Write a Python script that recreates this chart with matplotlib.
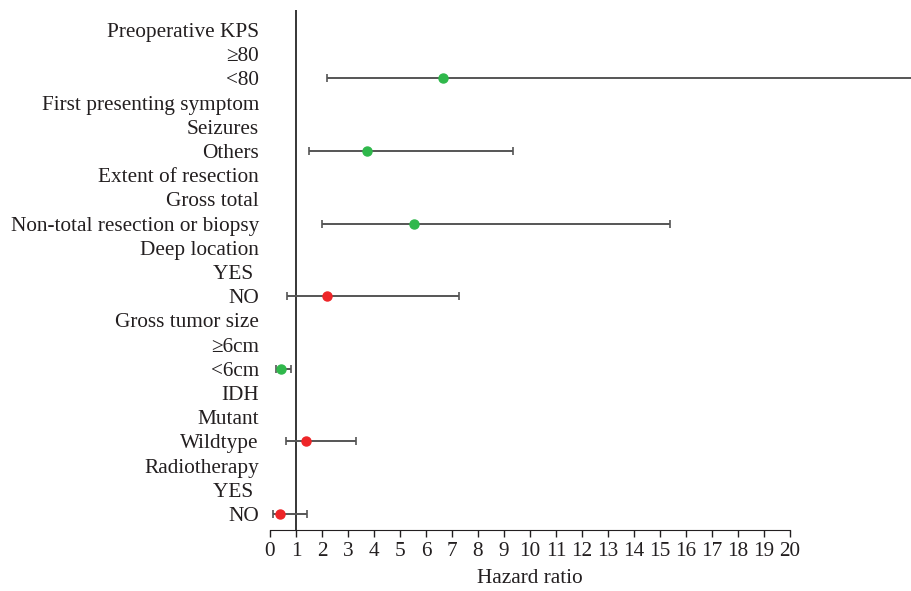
import matplotlib.pyplot as plt
import numpy as np

plt.rcParams['font.family'] = ['Liberation Serif', 'DejaVu Serif']

# row labels, top to bottom
labels = ["Preoperative KPS", "\u226580", "<80",
          "First presenting symptom", "Seizures", "Others",
          "Extent of resection", "Gross total", "Non-total resection or biopsy",
          "Deep location", "YES ", "NO",
          "Gross tumor size", "\u22656cm", "<6cm",
          "IDH", "Mutant", "Wildtype",
          "Radiotherapy", "YES ", "NO"]

# rows that carry an estimate
rows = [2, 5, 8, 11, 14, 17, 20]
hr = [6.65, 3.72, 5.54, 2.18, 0.42, 1.37, 0.38]
lower = [2.2, 1.5, 1.99, 0.65, 0.23, 0.6, 0.13]
upper = [26.0, 9.35, 15.4, 7.27, 0.81, 3.3, 1.41]
colors = ["#2fb84b", "#2fb84b", "#2fb84b", "#ee2528", "#2fb84b", "#ee2528", "#ee2528"]

fig = plt.figure(figsize=(9.12, 5.91), dpi=100)
ax = fig.add_axes([270 / 912, 61 / 591, 642 / 912, 520 / 591])

for r, h, lo, up, c in zip(rows, hr, lower, upper, colors):
    ax.errorbar(h, r, xerr=[[h - lo], [up - h]], fmt='none', ecolor='#555555',
                elinewidth=1.4, capsize=3, capthick=1.2, zorder=2)
    ax.plot(h, r, 'o', color=c, markersize=6.5, zorder=3)

ax.axvline(1, color='black', lw=1.1, zorder=1)

ax.set_xlim(0, 642 / 26)
ax.set_ylim(20.66, -0.826)

ax.set_yticks(range(len(labels)))
ax.set_yticklabels(labels, fontsize=15.3, color='#231f20')
ax.tick_params(axis='y', length=0, pad=8)

ax.set_xticks(range(0, 21))
ax.tick_params(axis='x', labelsize=15.3, length=5, width=1, colors='#231f20', pad=4)
ax.set_xlabel("Hazard ratio", fontsize=15.3, color='#231f20')
ax.xaxis.set_label_coords(10 / (642 / 26), -0.075)

for s in ['top', 'right', 'left']:
    ax.spines[s].set_visible(False)
ax.spines['bottom'].set_bounds(0, 20)
ax.spines['bottom'].set_color('#231f20')

fig.savefig("out.png", dpi=100)
